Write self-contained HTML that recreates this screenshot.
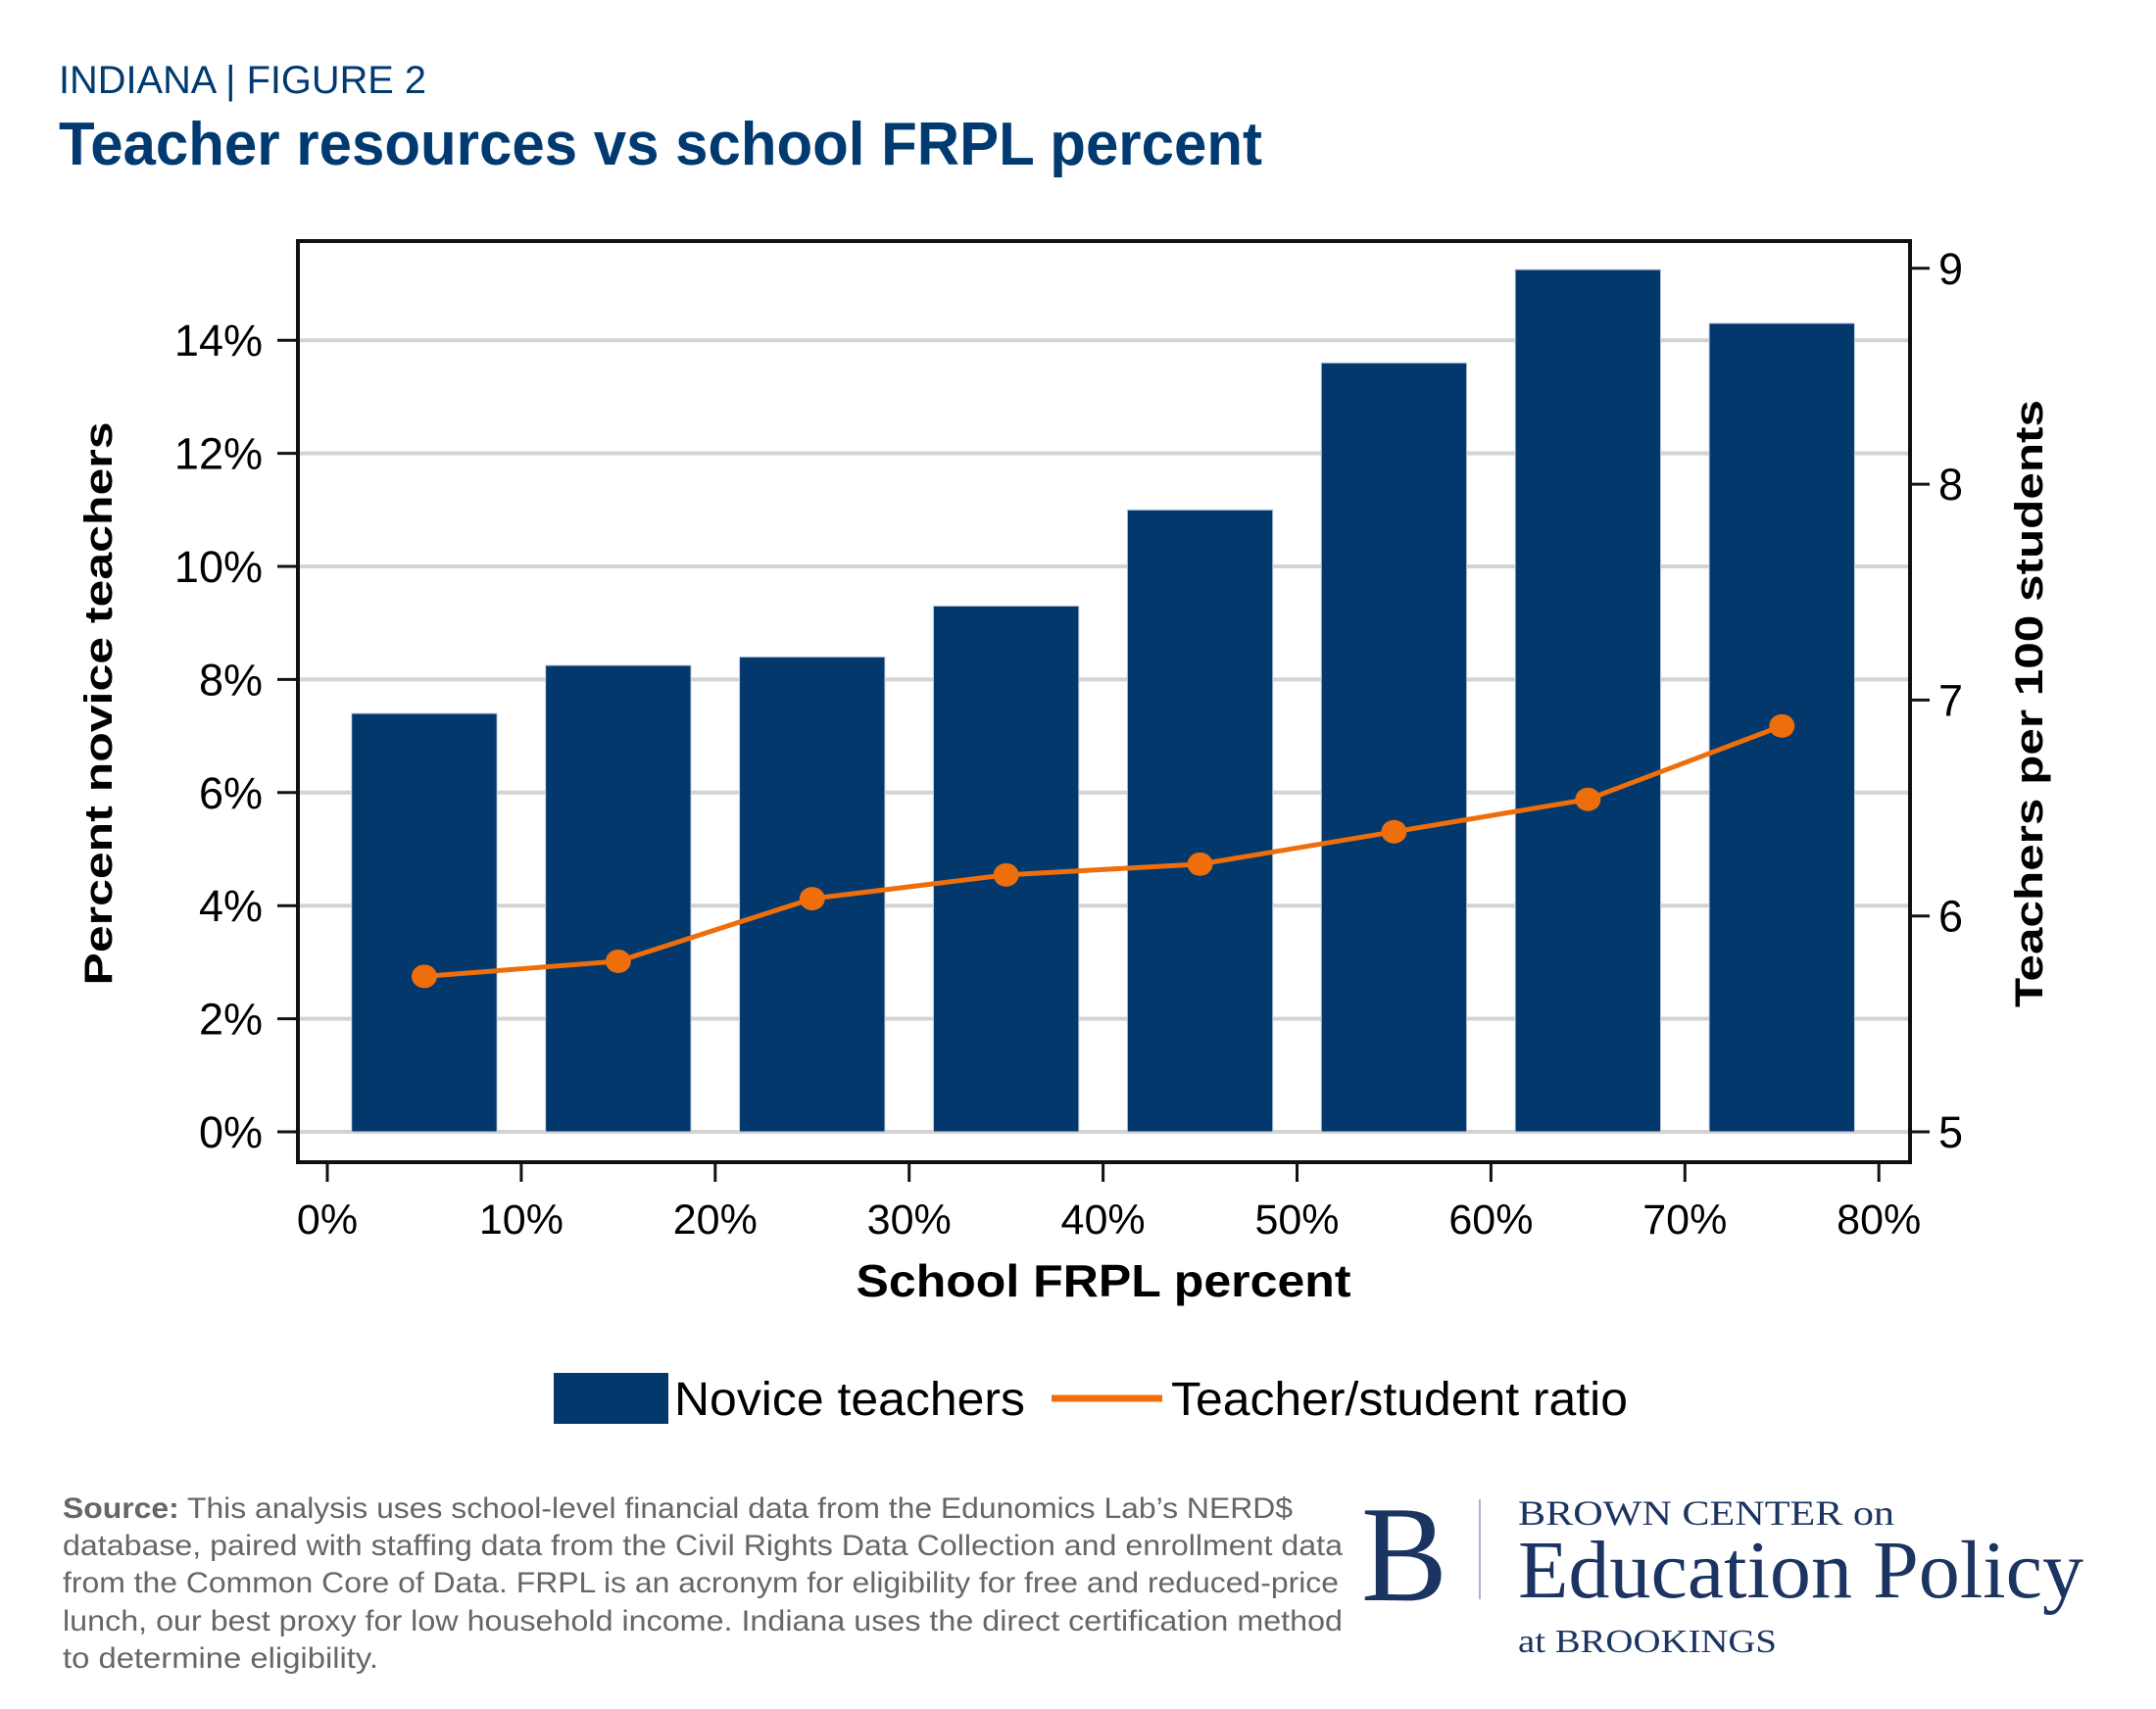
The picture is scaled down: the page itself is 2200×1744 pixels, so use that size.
<!DOCTYPE html>
<html><head><meta charset="utf-8">
<style>
html,body{margin:0;padding:0;background:#fff;}
svg{display:block;}
.sans{font-family:"Liberation Sans",Arial,sans-serif;}
.serif{font-family:"Liberation Serif","Times New Roman",serif;}
</style></head>
<body>
<svg id="chart" class="sans" width="2200" height="1744" viewBox="0 0 2200 1744" xmlns="http://www.w3.org/2000/svg">
  <rect width="2200" height="1744" fill="#fff"/>
  <text x="60" y="95" font-size="40" fill="#003a70" textLength="375" lengthAdjust="spacingAndGlyphs">INDIANA  |  FIGURE 2</text>
  <text x="60" y="168" font-size="62" font-weight="bold" fill="#003a70" textLength="1228" lengthAdjust="spacingAndGlyphs">Teacher resources vs school FRPL percent</text>

  <g id="grid"></g>
  <g id="bars"></g>
  <g id="line"></g>
  <rect x="304" y="246" width="1645" height="940" fill="none" stroke="#111" stroke-width="4"/>
  <g id="axes"></g>

  <text transform="translate(114,718) rotate(-90)" text-anchor="middle" font-size="40" font-weight="bold" fill="#000" textLength="575" lengthAdjust="spacingAndGlyphs">Percent novice teachers</text>
  <text transform="translate(2084,718) rotate(-90)" text-anchor="middle" font-size="40" font-weight="bold" fill="#000" textLength="620" lengthAdjust="spacingAndGlyphs">Teachers per 100 students</text>
  <text x="1126" y="1323" text-anchor="middle" font-size="46" font-weight="bold" fill="#000" textLength="505" lengthAdjust="spacingAndGlyphs">School FRPL percent</text>

  <g>
    <rect x="565" y="1401" width="117" height="52" fill="#02386c"/>
    <text x="688" y="1444" font-size="48" fill="#000" textLength="358" lengthAdjust="spacingAndGlyphs">Novice teachers</text>
    <line x1="1073" y1="1427" x2="1186" y2="1427" stroke="#ee6e0b" stroke-width="7"/>
    <text x="1195" y="1444" font-size="48" fill="#000" textLength="466" lengthAdjust="spacingAndGlyphs">Teacher/student ratio</text>
  </g>

  <g font-size="30" fill="#666">
    <text x="64" y="1549" textLength="1255" lengthAdjust="spacingAndGlyphs"><tspan font-weight="bold">Source:</tspan> This analysis uses school-level financial data from the Edunomics Lab’s NERD$</text>
    <text x="64" y="1587" textLength="1306" lengthAdjust="spacingAndGlyphs">database, paired with staffing data from the Civil Rights Data Collection and enrollment data</text>
    <text x="64" y="1625" textLength="1302" lengthAdjust="spacingAndGlyphs">from the Common Core of Data. FRPL is an acronym for eligibility for free and reduced-price</text>
    <text x="64" y="1664" textLength="1306" lengthAdjust="spacingAndGlyphs">lunch, our best proxy for low household income. Indiana uses the direct certification method</text>
    <text x="64" y="1702" textLength="322" lengthAdjust="spacingAndGlyphs">to determine eligibility.</text>
  </g>

  <g class="serif" fill="#1c3461">
    <text class="serif" x="1389" y="1633" font-size="140" textLength="88" lengthAdjust="spacingAndGlyphs">B</text>
    <line x1="1510" y1="1530" x2="1510" y2="1632" stroke="#aab4c4" stroke-width="2"/>
    <text class="serif" x="1549" y="1556" font-size="36" textLength="384" lengthAdjust="spacingAndGlyphs">BROWN CENTER on</text>
    <text class="serif" x="1549" y="1630" font-size="84" textLength="577" lengthAdjust="spacingAndGlyphs">Education Policy</text>
    <text class="serif" x="1549" y="1686" font-size="34" textLength="264" lengthAdjust="spacingAndGlyphs">at BROOKINGS</text>
  </g>
</svg>
<script>
const categories = [5, 15, 25, 35, 45, 55, 65, 75];
const noviceValues = [7.4, 8.25, 8.4, 9.3, 11.0, 13.6, 15.25, 14.3];
const ratioValues = [5.72, 5.79, 6.08, 6.19, 6.24, 6.39, 6.54, 6.88];
const leftTicks = [0, 2, 4, 6, 8, 10, 12, 14];
const rightTicks = [5, 6, 7, 8, 9];
const xTicks = [0, 10, 20, 30, 40, 50, 60, 70, 80];

const NS = 'http://www.w3.org/2000/svg';
const xS = v => 334 + (v / 10) * 197.9;
const yL = v => 1155 - v * 57.7;
const yR = v => 1155 - (v - 5) * 220.3;
function mk(tag, attrs, parent) {
  const e = document.createElementNS(NS, tag);
  for (const k in attrs) e.setAttribute(k, attrs[k]);
  parent.appendChild(e);
  return e;
}
const grid = document.getElementById('grid');
const bars = document.getElementById('bars');
const line = document.getElementById('line');
const axes = document.getElementById('axes');

leftTicks.forEach(t => {
  const g = mk('line', {x1: 304, x2: 1949, y1: yL(t), y2: yL(t), stroke: '#d3d3d3', 'stroke-width': 4}, grid);
  
  
  const tk = mk('line', {x1: 283, x2: 304, y1: yL(t), y2: yL(t), stroke: '#111', 'stroke-width': 3}, axes);
  
  
  const lb = mk('text', {x: 268, y: yL(t) + 16, 'text-anchor': 'end', 'font-size': 45, fill: '#000'}, axes);
  lb.textContent = t + '%';
  
  
});
rightTicks.forEach(t => {
  const tk = mk('line', {x1: 1949, x2: 1969, y1: yR(t), y2: yR(t), stroke: '#111', 'stroke-width': 3}, axes);
  
  
  const lb = mk('text', {x: 1978, y: yR(t) + 16, 'font-size': 45, fill: '#000'}, axes);
  lb.textContent = t;
  
  
});
xTicks.forEach(t => {
  const tk = mk('line', {x1: xS(t), x2: xS(t), y1: 1186, y2: 1206, stroke: '#111', 'stroke-width': 3}, axes);
  
  
  const lb = mk('text', {x: xS(t), y: 1259, 'text-anchor': 'middle', 'font-size': 43, fill: '#000'}, axes);
  lb.textContent = t + '%';
  
  
});
const bw = 197.9 * 0.75;
categories.forEach((c, i) => {
  const b = mk('rect', {x: xS(c) - bw / 2, y: yL(noviceValues[i]), width: bw, height: yL(0) - yL(noviceValues[i]), fill: '#02386c', stroke: '#c8d2de', 'stroke-width': 1}, bars);
  
  
});
const pts = categories.map((c, i) => xS(c) + ',' + yR(ratioValues[i])).join(' ');
const pl = mk('polyline', {points: pts, fill: 'none', stroke: '#ee6e0b', 'stroke-width': 5}, line);


categories.forEach((c, i) => {
  const m = mk('ellipse', {cx: xS(c), cy: yR(ratioValues[i]), rx: 13, ry: 12, fill: '#ee6e0b'}, line);
  
  
});
</script>
</body></html>
